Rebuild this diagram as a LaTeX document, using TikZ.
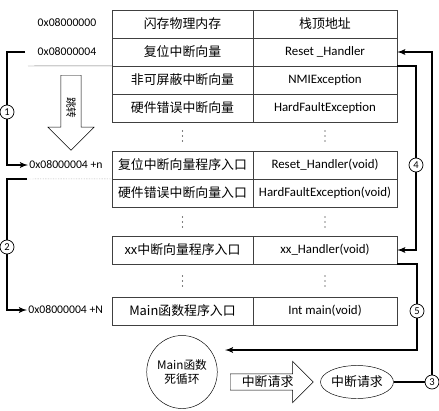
\documentclass[tikz,border=0pt]{standalone}
\usepackage{fontspec}
\setmainfont{Carlito}
\newfontfamily\cjk{Noto Sans CJK SC}
\usetikzlibrary{arrows,shapes.geometric,shapes.arrows}

\begin{document}
\begin{tikzpicture}[x=0.3mm,y=-0.3mm]
    \tikzset{zh/.style = {font=\cjk\fontsize{11}{13}\selectfont}}
    \tikzset{cell/.style = {shape=rectangle,draw=black!75,minimum height=8.4mm,inner sep=0pt,font=\fontsize{11}{13}\selectfont}}
    \tikzset{lcell/.style = {cell,minimum width=42.3mm,zh}}
    \tikzset{rcell/.style = {cell,minimum width=43.2mm}}
    \tikzset{addr/.style = {inner sep=1pt,font=\fontsize{10}{12}\selectfont}}
    \tikzset{num/.style = {shape=circle,draw,fill=white,inner sep=0pt,minimum size=4.2mm,line width=0.6pt,font=\fontsize{9}{9}\selectfont}}
    \tikzset{edge/.style = {->,> = latex',line width=1.4pt}}
    \useasboundingbox (0,0) rectangle (439,410);
    % vector table
    \node[lcell] (flash) at (182.5,24) {闪存物理内存};
    \node[rcell,zh] (msp) at (325,24) {栈顶地址};
    \node[lcell] (rstvec) at (182.5,52) {复位中断向量};
    \node[rcell] (rsthdl) at (325,52) {Reset \_Handler};
    \node[lcell] (nmivec) at (182.5,80) {非可屏蔽中断向量};
    \node[rcell] (nmi) at (325,80) {NMIException};
    \node[lcell] (hfvec) at (182.5,108) {硬件错误中断向量};
    \node[rcell] (hf) at (325,108) {HardFaultException};
    % program entries
    \node[lcell] (rstentry) at (182.5,165) {复位中断向量程序入口};
    \node[rcell] (rstfun) at (325,165) {Reset\_Handler(void)};
    \node[lcell] (hfentry) at (182.5,193) {硬件错误中断向量入口};
    \node[rcell] (hffun) at (325,193) {HardFaultException(void)};
    \node[lcell] (xxentry) at (182.5,250) {xx中断向量程序入口};
    \node[rcell] (xxfun) at (325,250) {xx\_Handler(void)};
    \node[lcell] (mainentry) at (182.5,311) {Main函数程序入口};
    \node[rcell] (mainfun) at (325,311) {Int main(void)};
    % vertical dots between rows
    \foreach \x/\y in {182.5/136,325/136,182.5/222,325/222,182.5/281,325/281}
        \foreach \k in {-5,0,5}
            \fill (\x,\y+\k) circle (0.45pt);
    % addresses
    \node[addr] (a0) at (67,23) {0x08000000};
    \node[addr] (a4) at (67,52) {0x08000004};
    \node[addr,anchor=west] (an) at (28,165) {0x08000004 +n};
    \node[addr,anchor=west] (aN) at (27,310) {0x08000004 +N};
    % block arrows and loops
    \node[single arrow,draw,rotate=-90,anchor=tail,minimum height=22.5mm,single arrow head extend=3.9mm,inner xsep=1pt,inner ysep=1.5mm,font=\cjk\fontsize{9}{10}\selectfont] (jump) at (71,75) {跳转};
    \node[single arrow,draw,anchor=tail,minimum height=24.9mm,single arrow head extend=3.75mm,inner xsep=1pt,inner ysep=0.6mm,zh] (reqin) at (230,382) {中断请求};
    \node[ellipse,draw,minimum width=21.9mm,minimum height=9.9mm,inner sep=0pt,zh] (req) at (357,382) {中断请求};
    \node[ellipse,draw,minimum width=18.3mm,minimum height=21.9mm,inner sep=0pt,align=center,font=\cjk\fontsize{10}{12}\selectfont] (main) at (182,372) {Main函数\\死循环};
    \node[num] (n3) at (432,382) {3};
    \coordinate (c0) at (28,66);
    \coordinate (c1) at (25,52);
    \coordinate (c2) at (27,179);
    \coordinate (ret) at (225,350);
    \draw[black!55] (c0) -- (nmivec.north west);
    \draw[black!45,densely dotted] (c2) -- (hfentry.north west);
    \draw[edge] (c1) -- ++(-18,0) |- (an.west);
    \draw[edge] (c2) -- ++(-20,0) |- (aN.west);
    \draw[line width=1.4pt] (req.east) -- (n3);
    \draw[edge] (n3) |- (rsthdl.east);
    \draw[edge] (rsthdl.south east) -- ++(19,0) |- (xxfun.east);
    \draw[edge] (xxfun.south east) -- ++(20,0) |- (ret);
    \node[num] (n1) at (7,112) {1};
    \node[num] (n2) at (7,247) {2};
    \node[num] (n4) at (416,165) {4};
    \node[num] (n5) at (417,311) {5};
\end{tikzpicture}
\end{document}
